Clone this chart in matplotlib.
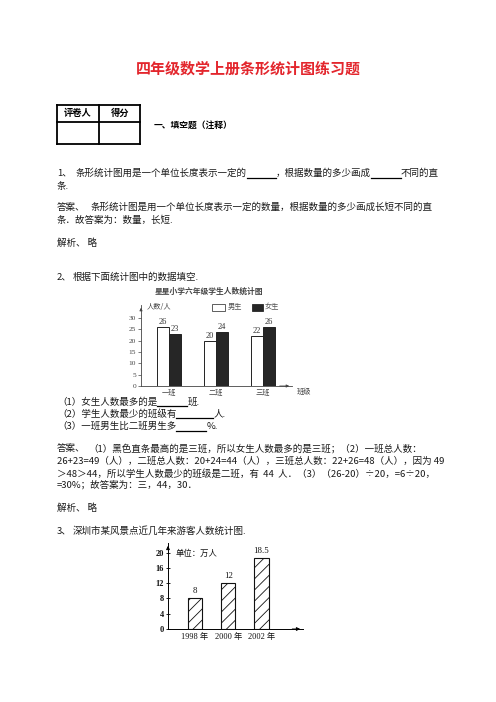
import matplotlib
matplotlib.use("Agg")
import matplotlib.pyplot as plt
from matplotlib.lines import Line2D
import numpy as np

# ---------------- data ----------------
classes = ['一班', '二班', '三班']
boys = [26, 20, 22]
girls = [23, 24, 26]
yticks1 = [0, 5, 10, 15, 20, 25, 30]

years = ['1998 年', '2000 年', '2002 年']
visitors = [8, 12, 18.5]
yticks2 = [0, 4, 8, 12, 16, 20]

W, H = 496, 702
CJK = ['Noto Sans CJK SC', 'DejaVu Sans']
SERIF = ['Liberation Serif', 'Noto Sans CJK SC']
plt.rcParams['font.family'] = CJK
plt.rcParams['hatch.linewidth'] = 0.6

fig = plt.figure(figsize=(W / 100, H / 100), dpi=100)
renderer = fig.canvas.get_renderer()
TXT = '#1a1a1a'
FS = 6.85


def fx(x):
    return x / W


def fy(y):
    return 1 - y / H


def text(x, y, s, **kw):
    kw.setdefault('fontsize', FS)
    kw.setdefault('color', TXT)
    kw.setdefault('va', 'center')
    kw.setdefault('ha', 'left')
    return fig.text(fx(x), fy(y), s, **kw)


def line(x0, y0, x1, y1, lw=0.8, color='k'):
    fig.add_artist(Line2D([fx(x0), fx(x1)], [fy(y0), fy(y1)],
                          transform=fig.transFigure, lw=lw, color=color))


def seq(x, y, parts):
    """Place text segments and underlined blanks one after another."""
    cur = x
    for p in parts:
        if isinstance(p, str):
            t = text(cur, y, p)
            bb = t.get_window_extent(renderer)
            cur += bb.width
        else:
            line(cur, y + 4.2, cur + p, y + 4.2, lw=0.9, color='k')
            cur += p


# ---------------- title ----------------
text(248, 69, '四年级数学上册条形统计图练习题', ha='center', fontsize=10.8,
     fontweight='bold', color='#e3262d')

# ---------------- score table ----------------
lw_t = 1.3
line(57, 104.5, 140.3, 104.5, lw_t)
line(57, 122.3, 140.3, 122.3, lw_t)
line(57, 144.3, 140.3, 144.3, lw_t)
line(57, 104.5, 57, 144.3, lw_t)
line(99.3, 104.5, 99.3, 144.3, lw_t)
line(140.3, 104.5, 140.3, 144.3, lw_t)
text(77.5, 113.5, '评卷人', ha='center', fontsize=6.7, fontweight='bold', color='k')
text(120, 113.5, '得分', ha='center', fontsize=6.7, fontweight='bold', color='k')
text(154, 125, '一、填空题（注释）', fontsize=6.3, fontweight='bold', color='k')

# ---------------- question 1 ----------------
text(57, 173.3, '1、')
seq(76, 173.3, ['条形统计图用是一个单位长度表示一定的', 29, '，根据数量的多少画成', 30, '不同的直'])
text(57, 186, '条.')
text(57, 207.3, '答案、')
text(91, 207.3, '条形统计图是用一个单位长度表示一定的数量，根据数量的多少画成长短不同的直')
text(57, 220.7, '条．故答案为：数量，长短.')
text(57, 242.7, '解析、 略')

# ---------------- question 2 ----------------
text(57, 277.3, '2、')
text(73, 277.3, '根据下面统计图中的数据填空.')
text(209, 291, '星星小学六年级学生人数统计图', ha='center', fontsize=5.6,
     fontweight='bold', color='#444444')

# chart 1 : origin at (141, 386), top arrow at 305, right arrow at 292
x_l, x_r, y_b, y_t = 141, 292, 386, 305
ax1 = fig.add_axes([fx(x_l), fy(y_b), (x_r - x_l) / W, (y_b - y_t) / H])
pxu = 2.27  # px per unit
ax1.set_ylim(0, (y_b - y_t) / pxu)
sp = 47.0
c0 = 169.0
ax1.set_xlim((x_l - c0) / sp, (x_r - c0) / sp)
xpos = np.arange(len(classes))
bw = 12 / sp
ax1.bar(xpos - bw / 2, boys, bw, color='white', edgecolor='#222222', lw=0.7)
ax1.bar(xpos + bw / 2, girls, bw, color='#262626', edgecolor='#222222', lw=0.7)
for i in range(len(classes)):
    ax1.text(xpos[i] - bw / 2, boys[i] + 0.3, str(boys[i]), ha='center', va='bottom',
             fontsize=6, family=SERIF, color='#333333')
    ax1.text(xpos[i] + bw / 2, girls[i] + 0.3, str(girls[i]), ha='center', va='bottom',
             fontsize=6, family=SERIF, color='#333333')
ax1.set_yticks(yticks1)
ax1.set_yticklabels([str(v) for v in yticks1], family=SERIF, fontsize=5.3, color='#444444')
ax1.set_xticks(xpos)
ax1.set_xticklabels(classes, fontsize=5.2, color='#444444')
ax1.tick_params(axis='y', length=2, width=0.5, pad=1.5, colors='#444444')
ax1.tick_params(axis='x', length=0, pad=2)
for s in ['top', 'right']:
    ax1.spines[s].set_visible(False)
for s in ['left', 'bottom']:
    ax1.spines[s].set_linewidth(0.6)
    ax1.spines[s].set_color('#444444')
ax1.patch.set_alpha(0)
ax1.annotate('', xy=(0, 1), xytext=(0, 0.9), xycoords='axes fraction',
             arrowprops=dict(arrowstyle='-|>', lw=0.6, color='#444444', mutation_scale=4))
ax1.annotate('', xy=(1, 0), xytext=(0.9, 0), xycoords='axes fraction',
             arrowprops=dict(arrowstyle='-|>', lw=0.6, color='#444444', mutation_scale=4))
text(147, 307, '人数/人', fontsize=5.2, color='#444444')
text(297, 391.5, '班级', fontsize=5.2, color='#444444')
# legend
fig.add_artist(plt.Rectangle((fx(212), fy(310.5)), 13 / W, 7 / H, transform=fig.transFigure,
                             facecolor='white', edgecolor='#444444', lw=0.6))
text(228, 307, '男生', fontsize=5.2, color='#555555')
fig.add_artist(plt.Rectangle((fx(252), fy(310.5)), 11 / W, 7 / H, transform=fig.transFigure,
                             facecolor='#262626', edgecolor='#262626', lw=0.6))
text(265, 307, '女生', fontsize=5.2, color='#555555')

seq(57, 402, ['（1）女生人数最多的是', 30, '班.'])
seq(57, 414, ['（2）学生人数最少的班级有', 37, '人.'])
seq(57, 426.7, ['（3）一班男生比二班男生多', 30, '%.'])

text(57, 448.3, '答案、')
text(88, 448.3, '（1）黑色直条最高的是三班，所以女生人数最多的是三班；（2）一班总人数：')
text(57, 461.3, '26+23=49（人），二班总人数：20+24=44（人），三班总人数：22+26=48（人），因为 49')
text(57, 474.3, '＞48＞44，所以学生人数最少的班级是二班，有  44  人．（3）（26-20）÷20，=6÷20，')
text(57, 485, '=30%；故答案为：三，44，30．')
text(57, 507.7, '解析、 略')

# ---------------- question 3 ----------------
text(57, 531.3, '3、')
text(73, 531.3, '深圳市某风景点近几年来游客人数统计图.')

# chart 2 : origin (168, 629), top arrow 543, right arrow 303
x_l2, x_r2, y_b2, y_t2 = 168, 303, 629, 543
ax2 = fig.add_axes([fx(x_l2), fy(y_b2), (x_r2 - x_l2) / W, (y_b2 - y_t2) / H])
pxu2 = 3.82
ax2.set_ylim(0, (y_b2 - y_t2) / pxu2)
sp2 = 33.2
c02 = 195.0
ax2.set_xlim((x_l2 - c02) / sp2, (x_r2 - c02) / sp2)
xpos2 = np.arange(len(years))
bw2 = 14.5 / sp2
ax2.bar(xpos2, visitors, bw2, color='white', edgecolor='#111111', lw=0.8, hatch='///')
for i in range(len(years)):
    ax2.text(xpos2[i], visitors[i] + 0.9, f'{visitors[i]:g}', ha='center', va='bottom',
             fontsize=6.3, family=SERIF, color='#111111')
ax2.set_yticks(yticks2)
ax2.set_yticklabels([str(v) for v in yticks2], family=SERIF, fontsize=6,
                    fontweight='bold', color='#111111')
ax2.set_xticks(xpos2)
ax2.set_xticklabels(years, family=SERIF, fontsize=6, color='#111111')
ax2.tick_params(axis='y', length=3, width=0.6, pad=1.5, direction='inout')
ax2.tick_params(axis='x', length=0, pad=2.5)
for s in ['top', 'right']:
    ax2.spines[s].set_visible(False)
for s in ['left', 'bottom']:
    ax2.spines[s].set_linewidth(0.7)
ax2.patch.set_alpha(0)
ax2.annotate('', xy=(0, 1), xytext=(0, 0.9), xycoords='axes fraction',
             arrowprops=dict(arrowstyle='-|>', lw=0.7, color='k', mutation_scale=5))
ax2.annotate('', xy=(1, 0), xytext=(0.9, 0), xycoords='axes fraction',
             arrowprops=dict(arrowstyle='-|>', lw=0.7, color='k', mutation_scale=5))
text(176, 553, '单位：万人', fontsize=6, color='#111111')

fig.savefig('out.png', dpi=100, facecolor='white')
